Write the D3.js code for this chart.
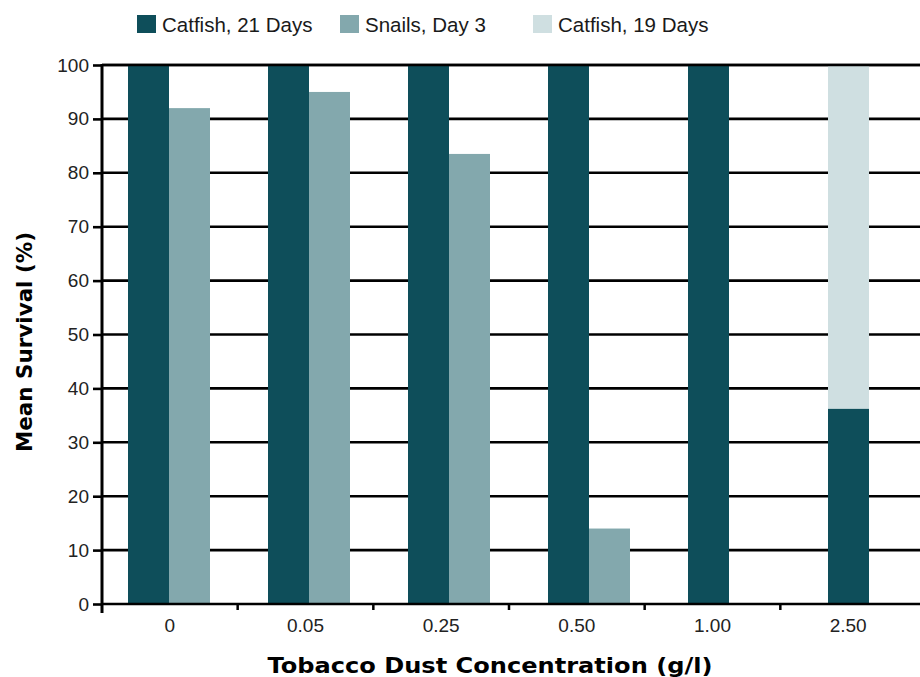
<!DOCTYPE html>
<html>
<head>
<meta charset="utf-8">
<script src="https://cdn.jsdelivr.net/npm/d3@7"></script>
<style>
  body { margin: 0; background: #fff; }
  svg { display: block; }
</style>
</head>
<body>
<div id="chart"></div>
<script>
// data
const categories = ["0", "0.05", "0.25", "0.50", "1.00", "2.50"];
const catfish21 = [100, 100, 100, 100, 100, 36.2];
const snails3 = [92, 95, 83.5, 14, null, null];
const catfish19 = [null, null, null, null, null, 100];
const yTicks = [0, 10, 20, 30, 40, 50, 60, 70, 80, 90, 100];

const seriesNames = ["Catfish, 21 Days", "Snails, Day 3", "Catfish, 19 Days"];
const colors = ["#0e4e5a", "#83a8ad", "#cfdfe1"];

const W = 920, H = 677;
const plotLeft = 102, plotRight = 920, plotTop = 65, plotBottom = 604;

const svg = d3.select("#chart").append("svg")
    .attr("width", W).attr("height", H);

const y = d3.scaleLinear().domain([0, 100]).range([plotBottom, plotTop]);
const x = d3.scaleBand().domain(categories).range([99, 939]);
const xLab = d3.scaleBand().domain(categories).range([plotLeft, 916]);
const sub = d3.scaleBand().domain([0, 1]).range([0, 82]);
const groupOff = (x.bandwidth() - 82) / 2;

// gridlines
svg.append("g").selectAll("line").data(yTicks.filter(t => t > 0)).enter().append("line")
    .attr("x1", plotLeft).attr("x2", plotRight)
    .attr("y1", d => y(d)).attr("y2", d => y(d))
    .attr("stroke", "#000").attr("stroke-width", 2.6);

// y axis ticks + labels
const yAxis = svg.append("g").attr("transform", `translate(${plotLeft},0)`)
    .call(d3.axisLeft(y).tickValues(yTicks).tickSize(9).tickPadding(4));
yAxis.select(".domain").remove();
yAxis.selectAll("line").attr("stroke", "#000").attr("stroke-width", 2.6);
yAxis.selectAll("text")
    .style("font-family", "'Liberation Sans', Arial, sans-serif")
    .style("font-size", "19px").attr("fill", "#222");

// catfish 19 days sits behind catfish 21 days in the same slot
const bars = svg.append("g");
categories.forEach((c, i) => {
    const x0 = x(c) + groupOff;
    if (catfish19[i] != null) {
        bars.append("rect").attr("x", x0 + sub(0)).attr("width", sub.bandwidth())
            .attr("y", y(catfish19[i])).attr("height", y(0) - y(catfish19[i]))
            .attr("fill", colors[2]);
    }
    if (catfish21[i] != null) {
        bars.append("rect").attr("x", x0 + sub(0)).attr("width", sub.bandwidth())
            .attr("y", y(catfish21[i])).attr("height", y(0) - y(catfish21[i]))
            .attr("fill", colors[0]);
    }
    if (snails3[i] != null) {
        bars.append("rect").attr("x", x0 + sub(1)).attr("width", sub.bandwidth())
            .attr("y", y(snails3[i])).attr("height", y(0) - y(snails3[i]))
            .attr("fill", colors[1]);
    }
});

// top line over bars
svg.append("line").attr("x1", plotLeft).attr("x2", plotRight)
    .attr("y1", y(100)).attr("y2", y(100))
    .attr("stroke", "#000").attr("stroke-width", 2.6);

// y axis line
svg.append("line").attr("x1", plotLeft).attr("x2", plotLeft)
    .attr("y1", y(100) - 1).attr("y2", plotBottom + 9)
    .attr("stroke", "#000").attr("stroke-width", 3);

// x axis line
svg.append("line").attr("x1", plotLeft).attr("x2", plotRight)
    .attr("y1", plotBottom).attr("y2", plotBottom)
    .attr("stroke", "#000").attr("stroke-width", 2.6);

// x ticks at category boundaries
svg.append("g").selectAll("line").data(categories.slice(1)).enter().append("line")
    .attr("x1", d => xLab(d)).attr("x2", d => xLab(d))
    .attr("y1", plotBottom).attr("y2", plotBottom + 6)
    .attr("stroke", "#000").attr("stroke-width", 2.5);

// x labels
svg.append("g").selectAll("text").data(categories).enter().append("text")
    .attr("x", d => xLab(d) + xLab.bandwidth() / 2)
    .attr("y", 632)
    .attr("text-anchor", "middle")
    .style("font-family", "'Liberation Sans', Arial, sans-serif")
    .style("font-size", "19px").attr("fill", "#222")
    .text(d => d);

// axis titles
svg.append("text")
    .attr("x", 490).attr("y", 673)
    .attr("text-anchor", "middle")
    .attr("textLength", 445).attr("lengthAdjust", "spacingAndGlyphs")
    .style("font-family", "'DejaVu Sans', sans-serif")
    .style("font-weight", "bold").style("font-size", "22px")
    .attr("fill", "#000")
    .text("Tobacco Dust Concentration (g/l)");

svg.append("text")
    .attr("transform", "translate(32,342) rotate(-90)")
    .attr("text-anchor", "middle")
    .attr("textLength", 220).attr("lengthAdjust", "spacingAndGlyphs")
    .style("font-family", "'DejaVu Sans', sans-serif")
    .style("font-weight", "bold").style("font-size", "22px")
    .attr("fill", "#000")
    .text("Mean Survival (%)");

// legend
const legendX = [137, 340, 533];
const legend = svg.append("g").selectAll("g").data(seriesNames).enter().append("g")
    .attr("transform", (d, i) => `translate(${legendX[i]},15)`);
legend.append("rect").attr("width", 19).attr("height", 18)
    .attr("fill", (d, i) => colors[i]);
legend.append("text").attr("x", 25).attr("y", 17)
    .style("font-family", "'Liberation Sans', Arial, sans-serif")
    .style("font-size", "20.5px").attr("fill", "#1a1a1a")
    .text(d => d);
</script>
</body>
</html>
